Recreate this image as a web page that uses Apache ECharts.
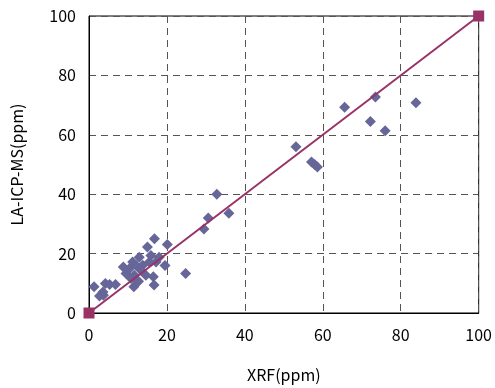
<!DOCTYPE html>
<html>
<head>
<meta charset="utf-8">
<script src="https://cdn.jsdelivr.net/npm/echarts@6/dist/echarts.min.js"></script>
<style>
  html, body { margin: 0; padding: 0; background: #fff; }
  #chart { width: 495px; height: 388px; }
</style>
</head>
<body>
<div id="chart"></div>
<script>
// XRF vs LA-ICP-MS measured values (ppm)
const xrfValues = [1.3, 4.2, 5.3, 6.8, 3.6, 2.7, 3.7,
    8.8, 9.5, 10.4, 11.2, 11.6, 11.5, 12.5, 12.9, 13.8, 14.6, 15.0, 15.5,
    16.5, 16.7, 16.8, 17.2, 18.0, 19.5, 20.1, 24.8, 10.8, 13.3, 15.9, 12.1, 12.7,
    29.5, 30.6, 32.8, 35.9,
    53.1, 57.1, 57.9, 58.6,
    65.6, 72.2, 73.5, 76.0, 83.9];
const icpValues = [8.8, 9.9, 9.6, 9.6, 7.1, 5.7, 6.0,
    15.5, 13.3, 15.0, 17.2, 12.7, 8.8, 10.5, 18.8, 16.1, 12.7, 22.2, 17.2,
    12.2, 9.4, 25.0, 17.2, 18.8, 16.0, 23.1, 13.3, 11.6, 14.4, 19.4, 16.0, 10.7,
    28.3, 32.0, 40.0, 33.6,
    56.0, 50.8, 50.0, 49.2,
    69.3, 64.5, 72.7, 61.4, 70.8];
// 1:1 reference line
const lineX = [0, 100];
const lineY = [0, 100];

const tickLabels = ['0', '20', '40', '60', '80', '100'];

const scatterData = xrfValues.map((x, i) => [x, icpValues[i]]);
const lineData = lineX.map((x, i) => [x, lineY[i]]);

const font = '"Noto Sans CJK JP", "Noto Sans", sans-serif';

function makeAxis(name, gap, labelMargin) {
    return {
        type: 'value',
        min: 0,
        max: 100,
        interval: 20,
        name: name,
        nameLocation: 'middle',
        nameGap: gap,
        nameTextStyle: { fontFamily: font, fontSize: 16, color: '#000' },
        axisLine: { show: true, lineStyle: { color: '#000', width: 1 } },
        axisTick: { show: false },
        axisLabel: {
            fontFamily: font, fontSize: 16, color: '#000', margin: labelMargin,
            formatter: v => tickLabels[Math.round(v / 20)]
        },
        splitLine: { show: true, lineStyle: { color: '#555', type: [7, 5], width: 1 } }
    };
}

const chart = echarts.init(document.getElementById('chart'));
chart.setOption({
    animation: false,
    grid: {
        left: 89, right: 13, top: 16, bottom: 73,
        show: true, borderColor: '#000', borderWidth: 1
    },
    xAxis: makeAxis('XRF(ppm)', 54, 14),
    yAxis: makeAxis('LA-ICP-MS(ppm)', 64, 13),
    series: [
        {
            type: 'line',
            data: lineData,
            symbol: 'rect',
            symbolSize: 11,
            showSymbol: true,
            clip: false,
            lineStyle: { color: '#993366', width: 2 },
            itemStyle: { color: '#993366' },
            z: 3
        },
        {
            type: 'scatter',
            data: scatterData,
            symbol: 'diamond',
            symbolSize: 11,
            itemStyle: { color: '#666699', opacity: 1 },
            z: 2
        }
    ]
});
</script>
</body>
</html>
